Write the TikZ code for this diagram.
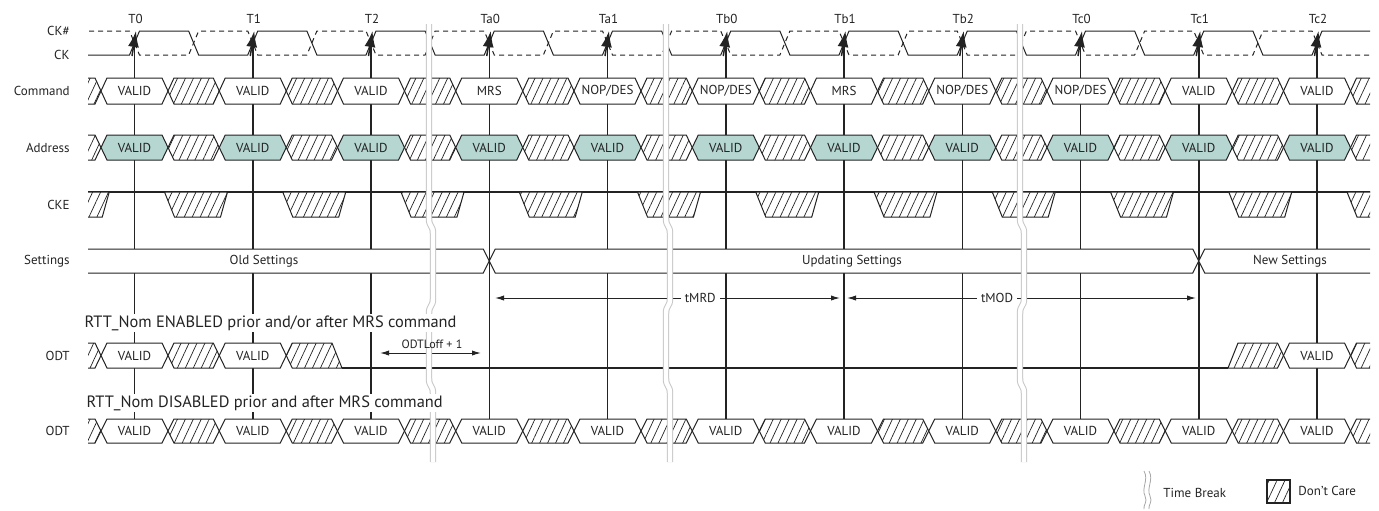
\documentclass[tikz,border=0pt]{standalone}
\usepackage{fontspec}
\setmainfont{PT Sans}
\usetikzlibrary{arrows.meta,patterns.meta}

\definecolor{ink}{RGB}{35,35,35}
\definecolor{addrfill}{RGB}{182,214,209}

\tikzset{
  sig/.style={draw=ink, line width=0.5pt},
  validbox/.style={sig, fill=white},
  addrbox/.style={sig, fill=addrfill},
  carebox/.style={sig, fill=white, postaction={pattern={Lines[angle=65,distance=3.6pt,line width=0.35pt]}, pattern color=ink}},
  lbl/.style={font=\fontsize{6.5}{7.5}\selectfont, text=ink, inner sep=0pt},
  rowname/.style={lbl, anchor=east},
  edgeline/.style={draw=ink, line width=0.75pt},
  timing/.style={sig, {Latex[length=4.5pt,width=2.6pt]}-{Latex[length=4.5pt,width=2.6pt]}},
  rtt/.style={font=\fontsize{8.2}{9.5}\selectfont, text=ink, anchor=west, fill=white, inner sep=0.6pt}
}

% one bus value: from, to, centre y, half height, style
\newcommand{\busseg}[5]{%
  \path[#5] (#1,#3) -- (#1+6,#3-#4) -- (#2-6,#3-#4) -- (#2,#3)
    -- (#2-6,#3+#4) -- (#1+6,#3+#4) -- cycle;}

% time break strip at x
\newcommand{\timebreak}[1]{%
  \foreach \brw/\brc in {3.2pt/gray!45,2.2pt/white}{
    \draw[line width=\brw, draw=\brc] (#1,24) -- (#1,218)
      .. controls (#1,228) and (#1+4,224) .. (#1+4,234) -- (#1+4,298)
      .. controls (#1+4,308) and (#1,304) .. (#1,314) -- (#1,378)
      .. controls (#1,388) and (#1+4,384) .. (#1+4,394) -- (#1+4,462);
  }}

\begin{document}
\begin{tikzpicture}[x=0.5pt,y=-0.5pt]
\useasboundingbox (0,0) rectangle (1379,510);

% clock edges
\foreach \i/\name in {0/T0,1/T1,2/T2,3/Ta0,4/Ta1,5/Tb0,6/Tb1,7/Tb2,8/Tc0,9/Tc1,10/Tc2}{
  \pgfmathsetmacro\x{134.5+118.25*\i}
  \node[lbl] (\name) at (\x+1,19) {\name};
  \draw[edgeline] (\x,425) -- (\x,46);
}

% signal rows
\begin{scope}
  \clip (88,0) rectangle (1370,510);
  \draw[sig] (80,55) foreach \i in {0,...,10}{
    -- (129.5+118.25*\i,55) -- (139.5+118.25*\i,31)
    -- (188.625+118.25*\i,31) -- (198.625+118.25*\i,55)};
  \draw[sig, dash pattern=on 2.5pt off 2pt] (80,31) foreach \i in {0,...,10}{
    -- (129.5+118.25*\i,31) -- (139.5+118.25*\i,55)
    -- (188.625+118.25*\i,55) -- (198.625+118.25*\i,31)};
  \draw[sig, line width=0.8pt] (80,192) -- (1380,192);
  \foreach \i in {-1,...,11}{
    \pgfmathsetmacro\x{134.5+118.25*\i}
    \busseg{\x-33.5}{\x+33.5}{91}{13}{validbox}
    \busseg{\x+33.5}{\x+84.75}{91}{13}{carebox}
    \busseg{\x-33.5}{\x+33.5}{147.5}{12.5}{addrbox}
    \busseg{\x+33.5}{\x+84.75}{147.5}{12.5}{carebox}
    \path[carebox] (\x+30,192) -- (\x+93,192) -- (\x+86,217) -- (\x+40,217) -- cycle;
    \busseg{\x-33.5}{\x+33.5}{431}{12}{validbox}
    \busseg{\x+33.5}{\x+84.75}{431}{12}{carebox}
  }
  % settings
  \busseg{20}{489.25}{261}{12}{validbox}
  \busseg{489.25}{1198.75}{261}{12}{validbox}
  \busseg{1198.75}{1460}{261}{12}{validbox}
  % ODT, RTT_Nom enabled
  \busseg{49.75}{101}{355.5}{12.5}{carebox}
  \busseg{101}{168}{355.5}{12.5}{validbox}
  \busseg{168}{219.25}{355.5}{12.5}{carebox}
  \busseg{219.25}{286.25}{355.5}{12.5}{validbox}
  \path[carebox] (286.25,355.5) -- (292.25,343) -- (332,343) -- (342,368) -- (292.25,368) -- cycle;
  \draw[sig, line width=0.8pt] (342,368) -- (1228,368);
  \path[carebox] (1228,368) -- (1238,343) -- (1277.5,343) -- (1283.5,355.5) -- (1277.5,368) -- cycle;
  \busseg{1283.5}{1350.5}{355.5}{12.5}{validbox}
  \busseg{1350.5}{1401.75}{355.5}{12.5}{carebox}
\end{scope}

% rising edge markers
\foreach \i in {0,...,10}{
  \pgfmathsetmacro\x{134.5+118.25*\i}
  \draw[edgeline, -{Latex[length=8pt,width=5.5pt]}] (\x-2.5,56) -- (\x+1.5,31);
}

% timing arrows
\coordinate (mrdL) at (495,298);
\coordinate (mrdR) at (840,298);
\coordinate (modL) at (847,298);
\coordinate (modR) at (1196,298);
\coordinate (offL) at (380,353);
\coordinate (offR) at (481,353);
\draw[timing] (mrdL) -- node[lbl, pos=0.595, fill=white, inner xsep=2pt] (tmrd) {tMRD} (mrdR);
\draw[timing] (modL) -- node[lbl, pos=0.43, fill=white, inner xsep=2pt] (tmod) {tMOD} (modR);
\draw[timing] (offL) -- (offR);

% time breaks
\timebreak{429}
\timebreak{666}
\timebreak{1020}

% row names
\node[rowname] (nckb) at (70,31) {CK\#};
\node[rowname] (nck) at (70,55) {CK};
\node[rowname] (ncmd) at (70,91) {Command};
\node[rowname] (nadr) at (70,147.5) {Address};
\node[rowname] (ncke) at (70,205) {CKE};
\node[rowname] (nset) at (70,261) {Settings};
\node[rowname] (nodta) at (70,355.5) {ODT};
\node[rowname] (nodtb) at (70,431) {ODT};

% values
\foreach \i/\cmd in {0/VALID,1/VALID,2/VALID,3/MRS,4/{NOP/DES},5/{NOP/DES},6/MRS,7/{NOP/DES},8/{NOP/DES},9/VALID,10/VALID}{
  \pgfmathsetmacro\x{134.5+118.25*\i}
  \node[lbl] (cmd\i) at (\x,91) {\cmd};
  \node[lbl] (adr\i) at (\x,147.5) {VALID};
  \node[lbl] (odtb\i) at (\x,431) {VALID};
}
\foreach \i in {0,1,10}{
  \pgfmathsetmacro\x{134.5+118.25*\i}
  \node[lbl] (odta\i) at (\x,355.5) {VALID};
}
\node[lbl] (sold) at (264,261) {Old Settings};
\node[lbl] (supd) at (852,261) {Updating Settings};
\node[lbl] (snew) at (1290,261) {New Settings};
\node[lbl, font=\fontsize{6}{7}\selectfont] (odtloff) at (432,344) {ODTLoff + 1};
\node[rtt] (rtten) at (83,323) {RTT\_Nom ENABLED prior and/or after MRS command};
\node[rtt] (rttdis) at (85,403) {RTT\_Nom DISABLED prior and after MRS command};

% legend
\foreach \lx in {1144,1149}
  \draw[gray!70, line width=0.4pt] (\lx,471) .. controls (\lx+5,480) and (\lx-3,488) .. (\lx+1,496)
    .. controls (\lx+4,502) and (\lx-1,505) .. (\lx,509);
\node[lbl, anchor=west] (ltb) at (1163,493) {Time Break};
\path[carebox, line width=0.7pt] (1267,480) rectangle (1290,503);
\node[lbl, anchor=west] (ldc) at (1298,491) {Don't Care};
\end{tikzpicture}
\end{document}
